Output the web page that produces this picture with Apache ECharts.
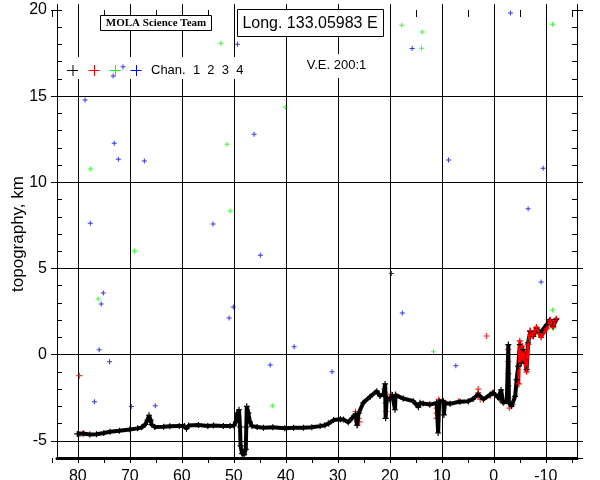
<!DOCTYPE html>
<html>
<head>
<meta charset="utf-8">
<script src="https://cdn.jsdelivr.net/npm/echarts@6/dist/echarts.min.js"></script>
<style>
  html, body { margin: 0; padding: 0; background: #fff; }
  #main { width: 600px; height: 480px; }
</style>
</head>
<body>
<div id="main"></div>
<script>
// 通道1 地形剖面 (经度 / km)
const chan1Lon = [80.1, 79.0, 77.7, 76.4, 75.0, 73.8, 72.0, 70.0, 68.5, 67.7, 67.0, 66.6, 66.3, 66.0, 65.8, 65.2, 63.5, 62.3, 60.5, 59.5,
  59.1, 58.7, 56.8, 55.0, 53.9, 52.0, 50.7, 50.0, 49.6, 49.3, 49.0, 48.8, 48.7, 48.4, 48.0, 47.7, 47.6, 47.5, 47.2, 46.9,
  46.5, 45.5, 44.3, 42.5, 40.2, 38.5, 36.6, 35.0, 33.4, 32.5, 31.8, 30.8, 29.5, 28.9, 28.0, 27.3, 26.6, 26.3, 26.0, 25.1,
  23.8, 22.5, 21.9, 21.2, 20.9, 20.8, 20.6, 20.0, 19.5, 19.0, 18.9, 17.4, 15.5, 14.5, 14.2, 13.6, 12.3, 11.0, 10.7, 10.5,
  9.7, 9.6, 9.4, 8.4, 6.5, 4.9, 4.0, 3.0, 2.0, 0.7, 0.1, -0.9, -1.2, -1.4, -1.8, -2.5, -2.8, -2.9, -3.4, -4.1,
  -4.4, -4.7, -5.0, -5.3, -5.6, -6.0, -6.3, -6.6, -7.0, -7.6, -8.2, -8.9, -10.2, -10.8, -11.4, -12.0]
const chan1Topo = [-4.6, -4.58, -4.64, -4.62, -4.55, -4.48, -4.42, -4.35, -4.28, -4.22, -4.05, -3.8, -3.52, -3.8, -4.06, -4.2, -4.18, -4.16, -4.15, -4.15,
  -4.3, -4.12, -4.08, -4.14, -4.12, -4.14, -4.15, -4.12, -3.9, -3.4, -3.2, -4.2, -5.3, -5.75, -5.8, -5.5, -4.2, -3.0, -3.4, -3.9,
  -4.15, -4.2, -4.25, -4.22, -4.28, -4.25, -4.25, -4.22, -4.15, -4.1, -4.0, -3.8, -3.75, -3.77, -3.93, -3.7, -3.45, -4.1, -3.4, -2.8,
  -2.45, -2.12, -2.4, -2.3, -1.7, -3.7, -2.5, -2.6, -2.35, -3.2, -2.35, -2.55, -2.7, -3.05, -2.8, -2.84, -2.9, -2.8, -4.55, -2.7,
  -2.7, -3.5, -2.8, -2.85, -2.73, -2.71, -2.57, -2.3, -2.6, -2.32, -2.22, -2.5, -2.6, -2.05, -2.8, -2.7, 0.58, -2.8, -3.0, -2.42,
  -1.45, -0.68, 0.58, -0.5, 0.29, -0.29, -0.87, 0.68, 1.35, 1.06, 1.55, 1.26, 1.74, 2.03, 1.64, 2.03]
// 通道1 离散点
const chan1PtLon = [19.7]
const chan1PtTopo = [4.71]

// 通道2 (红) 上升段
const chan2LineLon = [-4.8, -5.0, -5.2, -5.5, -5.9, -6.3, -6.6, -7.0, -7.4, -8.2, -8.7, -9.1, -10.2, -10.8, -11.4, -12.0]
const chan2LineTopo = [-1.7, 0.8, -0.3, 0.5, -0.3, -1.0, 0.6, 1.4, 1.1, 1.6, 1.2, 1.0, 1.5, 2.0, 1.6, 2.1]
// 通道2 离散点
const chan2Lon = [79.6, 78.8, 79.7, 66.3, 31.8, 26.6, 26.3, 26.0, 25.8, 26.2, 26.6, 21.0, 20.9, 20.8, 20.7, 20.5, 19.7, 18.9, 12.4, 11.0,
  11.0, 11.0, 10.6, 9.7, 6.8, 3.0, 3.0, 3.0, 2.6, 1.4, 0.7, 0.3, -1.3, -1.7, -2.8, -2.8, -2.8, -2.8, -2.8, -3.0, -3.6]
const chan2Topo = [-4.6, -4.58, -1.22, -3.73, -4.0, -3.6, -3.85, -3.7, -3.9, -4.1, -3.3, -2.0, -2.4, -2.8, -3.3, -2.3, -2.32, -2.3, -2.9, -3.1,
  -3.4, -3.7, -2.6, -2.7, -2.7, -2.0, -2.2, -2.4, -2.6, 1.08, -2.4, -2.2, -2.6, -2.7, 0.3, -0.4, -1.1, -1.8, -2.5, -3.1, -2.9]

// 通道3 (绿)
const chan3Lon = [52.5, 40.1, 51.3, 77.6, 50.7, 69.1, 76.1, 42.6, 17.7, 13.8, 13.9, -11.3, 11.6, -11.3, 25.9, -4.3, -4.4, -4.5, -4.6, -4.8,
  -5.0, -5.6, -6.7, -11.8, -11.4, -8.3]
const chan3Topo = [18.07, 14.36, 12.21, 10.77, 8.33, 6.01, 3.23, -2.97, 19.11, 18.72, 17.78, 19.17, 0.16, 2.59, -3.4, -2.3, -1.9, -1.5, -1.1, -0.9,
  -0.4, 0.4, 0.9, 1.9, 1.5, 1.5]

// 通道4 (蓝)
const chan4Lon = [78.6, 73.0, 72.2, 67.2, 46.1, 77.6, 54.0, 44.9, 75.1, 75.5, 50.1, 50.9, 38.4, 75.9, 73.9, 43.0, 76.8, 69.7, 65.1, 49.3,
  73.2, 71.3, -3.2, 15.7, 8.7, -9.5, -6.6, 17.6, -9.1, 7.3, 31.1]
const chan4Topo = [14.77, 12.27, 11.34, 11.23, 12.79, 7.63, 7.58, 5.76, 3.57, 2.94, 2.76, 2.13, 0.45, 0.28, -0.42, -0.60, -2.74, -3.01, -2.97, 18.01,
  16.17, 16.70, 19.83, 17.76, 11.29, 10.82, 8.46, 2.42, 4.21, -0.64, -1.0]

const FONT = 'Liberation Sans, Arial, sans-serif'
const PLUS = 'path://M4,0h2v4h4v2h-4v4h-2v-4h-4v-2h4z'
const zip = (xs, ys) => xs.map((x, i) => [x, ys[i]])

const myChart = echarts.init(document.querySelector('#main'), null, { renderer: 'canvas' })

// 坐标轴公共部分
const xBase = { type: 'value', min: -16, max: 84, inverse: true, splitNumber: 10, gridIndex: 0 }
const yBase = { type: 'value', min: -6, max: 20, splitNumber: 5, gridIndex: 0 }
const black = { color: '#000', width: 1 }

// 图例小十字
const legendCross = (cx, color) => ({
  type: 'group',
  z: 1,
  children: [
    { type: 'line', shape: { x1: cx - 5.5, y1: 70.5, x2: cx + 5.5, y2: 70.5 }, style: { stroke: color, lineWidth: 1 }, z: 1 },
    { type: 'line', shape: { x1: cx + 0.5, y1: 65, x2: cx + 0.5, y2: 76 }, style: { stroke: color, lineWidth: 1 }, z: 1 }
  ]
})

const option = {
  animation: false,
  backgroundColor: '#fff',
  grid: [
    { left: 57, right: 23, top: 10, bottom: 22, outerBoundsMode: 'none' },
    // 辅助网格: 只画 5 度一格的小刻度
    { left: 51.8, right: 28.2, top: 10, bottom: 22, outerBoundsMode: 'none' }
  ],
  xAxis: [
    {
      ...xBase,
      position: 'bottom',
      axisLine: { onZero: false, lineStyle: { color: '#000', width: 3 } },
      axisTick: { show: false },
      axisLabel: { color: '#000', fontSize: 16, fontFamily: FONT, margin: 11, showMinLabel: false, showMaxLabel: false },
      splitLine: { show: true, showMinLine: false, showMaxLine: false, lineStyle: black }
    },
    {
      ...xBase,
      position: 'top',
      axisLine: { show: false, onZero: false },
      axisTick: { show: true, inside: false, length: 6, lineStyle: black },
      axisLabel: { show: false },
      splitLine: { show: false }
    },
    {
      type: 'value', gridIndex: 1, min: -15, max: 85, interval: 5, inverse: true, position: 'bottom',
      axisLine: { show: false, onZero: false },
      axisTick: { show: true, inside: false, length: 5, lineStyle: black },
      axisLabel: { show: false },
      splitLine: { show: false }
    },
    {
      type: 'value', gridIndex: 1, min: -15, max: 85, interval: 5, inverse: true, position: 'top',
      axisLine: { show: false, onZero: false },
      axisTick: { show: true, inside: true, length: 7, lineStyle: black },
      axisLabel: { show: false },
      splitLine: { show: false }
    }
  ],
  yAxis: [
    {
      ...yBase,
      position: 'left',
      name: 'topography, km',
      nameLocation: 'middle',
      nameGap: 30,
      nameMoveOverlap: false,
      nameTextStyle: { color: '#000', fontSize: 17, fontFamily: FONT },
      axisLine: { onZero: false, lineStyle: black },
      axisTick: { show: true, inside: false, length: 6, lineStyle: black },
      axisLabel: { color: '#000', fontSize: 16, fontFamily: FONT, margin: 10, showMinLabel: false },
      splitLine: { show: true, showMinLine: false, showMaxLine: false, lineStyle: black }
    },
    {
      ...yBase,
      position: 'right',
      axisLine: { onZero: false, lineStyle: black },
      axisTick: { show: true, inside: false, length: 6, lineStyle: black },
      axisLabel: { show: false },
      splitLine: { show: false }
    },
    {
      type: 'value', gridIndex: 0, min: -6, max: 20, interval: 1, position: 'left',
      axisLine: { show: false, onZero: false },
      axisTick: { show: true, inside: true, length: 5, lineStyle: black },
      axisLabel: { show: false },
      splitLine: { show: false }
    },
    {
      type: 'value', gridIndex: 0, min: -6, max: 20, interval: 1, position: 'right',
      axisLine: { show: false, onZero: false },
      axisTick: { show: true, inside: true, length: 5, lineStyle: black },
      axisLabel: { show: false },
      splitLine: { show: false }
    },
    { type: 'value', gridIndex: 1, min: -6, max: 20, show: false }
  ],
  graphic: [
    // MOLA 标注框
    { type: 'rect', z: 1, shape: { x: 100.5, y: 15.5, width: 111, height: 15 }, style: { fill: '#fff', stroke: '#000', lineWidth: 1 } },
    { type: 'text', z: 1, x: 156, y: 23.5, style: { text: 'MOLA Science Team', font: 'bold 11px "Liberation Serif", serif', fill: '#000', align: 'center', verticalAlign: 'middle' } },
    // 经度框
    { type: 'rect', z: 1, shape: { x: 237.5, y: 9.5, width: 146, height: 27 }, style: { fill: '#fff', stroke: '#000', lineWidth: 1 } },
    { type: 'text', z: 1, x: 310, y: 23.5, style: { text: 'Long. 133.05983 E', font: '16px ' + FONT, fill: '#000', align: 'center', verticalAlign: 'middle' } },
    // 垂直放大比例
    { type: 'rect', z: 1, shape: { x: 302, y: 54, width: 70, height: 24 }, style: { fill: '#fff' } },
    { type: 'text', z: 1, x: 336.5, y: 65.5, style: { text: 'V.E. 200:1', font: '13px ' + FONT, fill: '#000', align: 'center', verticalAlign: 'middle' } },
    // 图例
    { type: 'rect', z: 1, shape: { x: 64, y: 57, width: 181, height: 22 }, style: { fill: '#fff' } },
    legendCross(72.5, '#000'),
    legendCross(94, '#ff0000'),
    legendCross(115, '#00ff00'),
    legendCross(136, '#0000ff'),
    { type: 'text', z: 1, x: 151, y: 70.5, style: { text: 'Chan.  1  2  3  4', font: '13px ' + FONT, fill: '#000', align: 'left', verticalAlign: 'middle' } }
  ],
  series: [
    {
      name: 'Chan. 1',
      type: 'line',
      xAxisIndex: 0,
      yAxisIndex: 0,
      data: zip(chan1Lon, chan1Topo),
      showAllSymbol: true,
      symbol: PLUS,
      symbolSize: 6,
      lineStyle: { color: '#000', width: 4 },
      itemStyle: { color: '#000' }
    },
    {
      name: 'Chan. 1 pts',
      type: 'scatter',
      data: zip(chan1PtLon, chan1PtTopo),
      symbol: PLUS,
      symbolSize: 5,
      itemStyle: { color: '#000' }
    },
    {
      name: 'Chan. 2',
      type: 'line',
      data: zip(chan2LineLon, chan2LineTopo),
      showAllSymbol: true,
      symbol: PLUS,
      symbolSize: 6,
      lineStyle: { color: '#ff0000', width: 3 },
      itemStyle: { color: '#ff0000' }
    },
    {
      name: 'Chan. 2 pts',
      type: 'scatter',
      data: zip(chan2Lon, chan2Topo),
      symbol: PLUS,
      symbolSize: 6,
      itemStyle: { color: '#ff0000' }
    },
    {
      name: 'Chan. 3',
      type: 'scatter',
      data: zip(chan3Lon, chan3Topo),
      symbol: PLUS,
      symbolSize: 5,
      itemStyle: { color: '#00ff00' }
    },
    {
      name: 'Chan. 4',
      type: 'scatter',
      data: zip(chan4Lon, chan4Topo),
      symbol: PLUS,
      symbolSize: 5,
      itemStyle: { color: '#0000ff' }
    }
  ]
}
myChart.setOption(option)
</script>
</body>
</html>
